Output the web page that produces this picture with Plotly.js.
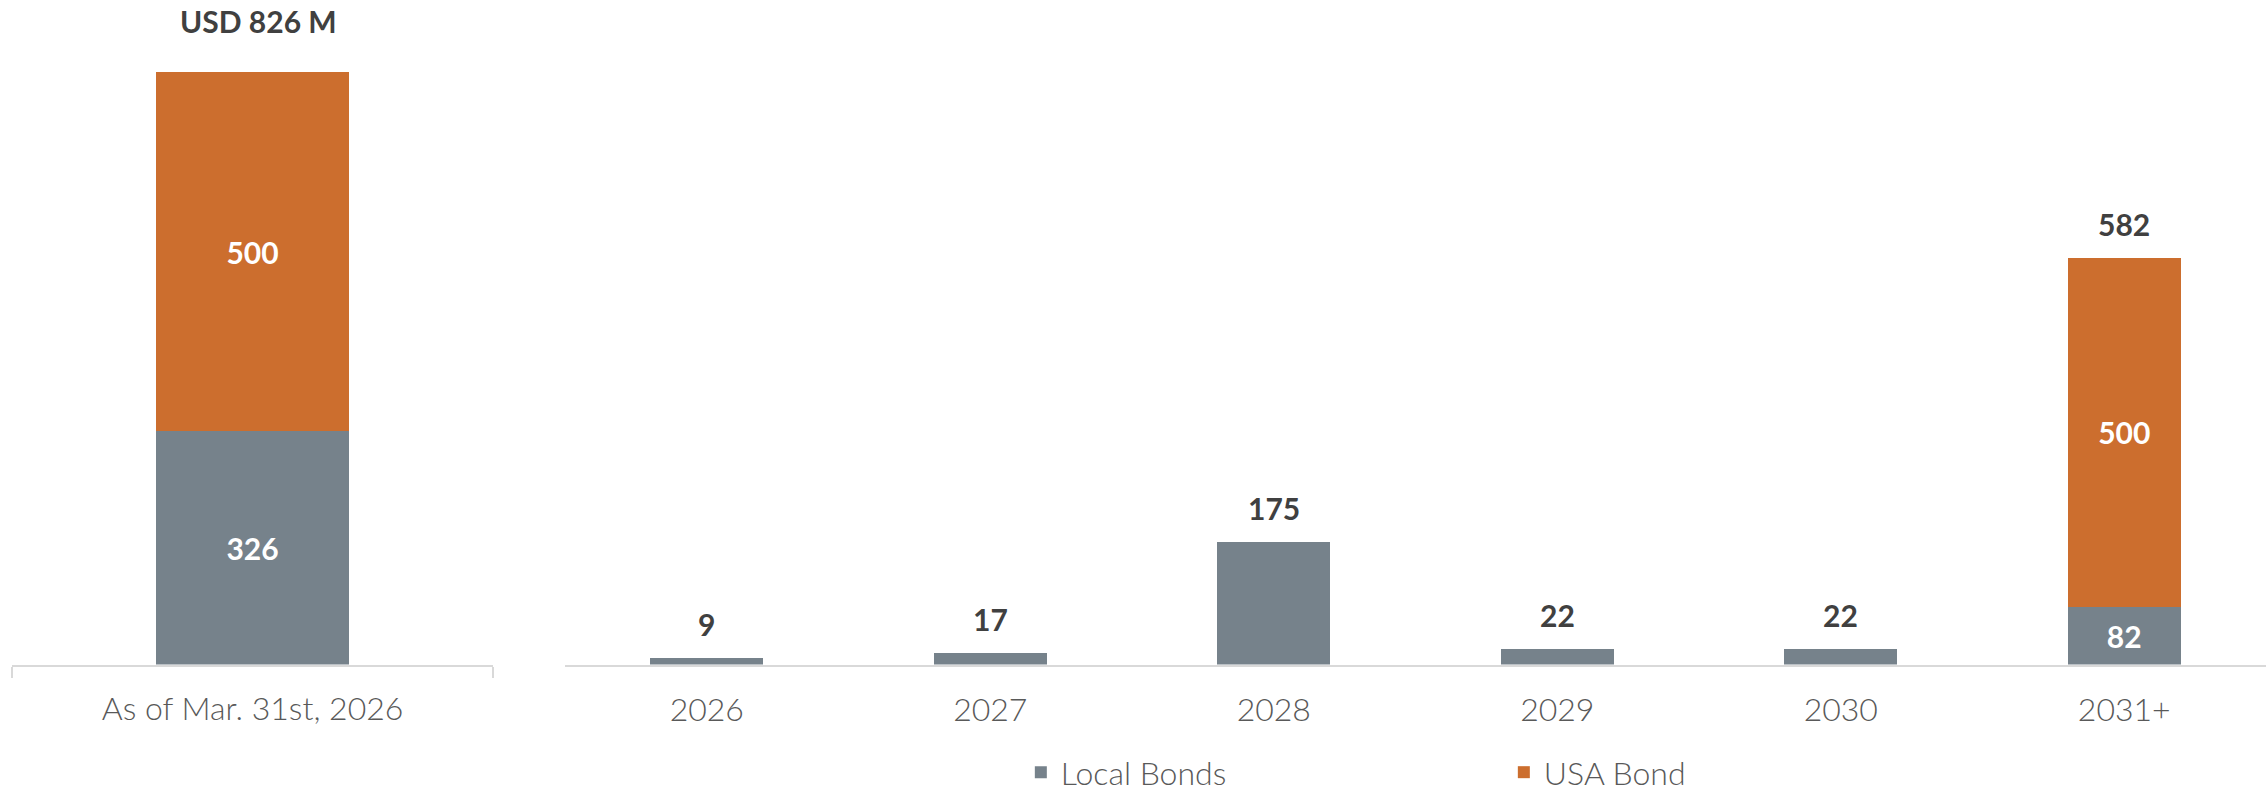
<!DOCTYPE html>
<html>
<head>
<meta charset="utf-8">
<script src="https://cdn.plot.ly/plotly-3.0.1.min.js"></script>
<style>html,body{margin:0;padding:0;background:#fff;}#chart{width:2266px;height:793px;}</style>
</head>
<body>
<div id="chart"></div>
<script>
// ---- data ----
const snapshotCategory = ['As of Mar. 31st, 2026'];
const snapshotLocal = [326];
const snapshotUSA = [500];
const snapshotTitle = 'USD 826 M';

const years = ['2026', '2027', '2028', '2029', '2030', '2031+'];
const localBonds = [9, 17, 175, 22, 22, 82];
const usaBond = [0, 0, 0, 0, 0, 500];

const seriesNames = ['Local Bonds', 'USA Bond'];
// ---- style ----
const GRAY = '#76828B';
const ORANGE = '#CC6E2E';
const FONT = 'Lato, "Open Sans", sans-serif';
const LABEL_SIZE = 30;

const totals = years.map((y, i) => localBonds[i] + usaBond[i]);
const snapshotTotal = snapshotLocal[0] + snapshotUSA[0];

const insideFont = {family: FONT, size: LABEL_SIZE, color: '#ffffff', weight: 700};

const traces = [
  {
    type: 'bar', name: seriesNames[0], x: snapshotCategory, y: snapshotLocal,
    xaxis: 'x', yaxis: 'y', marker: {color: GRAY}, legendgroup: 'local',
    text: snapshotLocal.map(String), textposition: 'inside', insidetextanchor: 'middle',
    textangle: 0, constraintext: 'none', textfont: insideFont, hoverinfo: 'none'
  },
  {
    type: 'bar', name: seriesNames[1], x: snapshotCategory, y: snapshotUSA,
    xaxis: 'x', yaxis: 'y', marker: {color: ORANGE}, legendgroup: 'usa',
    text: snapshotUSA.map(String), textposition: 'inside', insidetextanchor: 'middle',
    textangle: 0, constraintext: 'none', textfont: insideFont, hoverinfo: 'none'
  },
  {
    type: 'bar', name: seriesNames[0], x: years, y: localBonds,
    xaxis: 'x2', yaxis: 'y2', marker: {color: GRAY}, legendgroup: 'local', showlegend: false,
    text: localBonds.map((v, i) => usaBond[i] > 0 ? String(v) : ''),
    textposition: 'inside', insidetextanchor: 'middle', textangle: 0, constraintext: 'none',
    textfont: insideFont, hoverinfo: 'none'
  },
  {
    type: 'bar', name: seriesNames[1], x: years, y: usaBond.map(v => v > 0 ? v : null),
    xaxis: 'x2', yaxis: 'y2', marker: {color: ORANGE}, legendgroup: 'usa', showlegend: false,
    text: usaBond.map(v => v > 0 ? String(v) : ''),
    textposition: 'inside', insidetextanchor: 'middle', textangle: 0, constraintext: 'none',
    textfont: insideFont, hoverinfo: 'none'
  }
];

// total labels placed on the category axis by category index
const totalFont = {family: FONT, size: LABEL_SIZE, color: '#404040', weight: 700};
const annotations = years.map((y, i) => ({
  xref: 'x2', yref: 'y2', x: i, y: totals[i], text: String(totals[i]),
  showarrow: false, yanchor: 'middle', yshift: 34, font: totalFont
}));
annotations.push({
  xref: 'x', yref: 'y', x: 0, y: snapshotTotal, text: snapshotTitle,
  showarrow: false, yanchor: 'middle', yshift: 51, xshift: 6, font: totalFont
});

const tickFont = {family: FONT, size: 32, color: '#595959', weight: 300};
const yDom = [0.162, 1];

const layout = {
  width: 2266, height: 793,
  margin: {l: 0, r: 0, t: 0, b: 0, pad: 0, autoexpand: false},
  paper_bgcolor: '#ffffff', plot_bgcolor: '#ffffff',
  barmode: 'stack', bargap: 0.6,
  showlegend: true,
  legend: {
    orientation: 'h', traceorder: 'normal', x: 0.4505, xanchor: 'left',
    y: 0.026, yanchor: 'middle', entrywidth: 438, entrywidthmode: 'pixels',
    font: {family: FONT, size: 32, color: '#595959', weight: 300}, bgcolor: 'rgba(0,0,0,0)'
  },
  xaxis: {
    domain: [12 / 2266, 493 / 2266], anchor: 'y', type: 'category',
    categoryorder: 'array', categoryarray: snapshotCategory,
    range: [-0.5, snapshotCategory.length - 0.5],
    showline: true, linecolor: '#D9D9D9', linewidth: 2,
    ticks: 'outside', tickson: 'boundaries', ticklen: 11, tickcolor: '#D9D9D9', tickwidth: 2,
    showgrid: false, zeroline: false, tickfont: tickFont, ticklabelstandoff: 15
  },
  yaxis: {
    domain: yDom, anchor: 'x', range: [0, 926.8], visible: false, fixedrange: true
  },
  xaxis2: {
    domain: [565 / 2266, 1], anchor: 'y2', type: 'category',
    categoryorder: 'array', categoryarray: years,
    range: [-0.5, years.length - 0.5],
    showline: true, linecolor: '#D9D9D9', linewidth: 2, ticks: '',
    showgrid: false, zeroline: false, tickfont: tickFont, ticklabelstandoff: 16
  },
  yaxis2: {
    domain: yDom, anchor: 'x2', range: [0, 950.6], visible: false, fixedrange: true
  },
  annotations: annotations,
  font: {family: FONT}
};

Plotly.newPlot('chart', traces, layout, {staticPlot: true, displayModeBar: false});
</script>
</body>
</html>
